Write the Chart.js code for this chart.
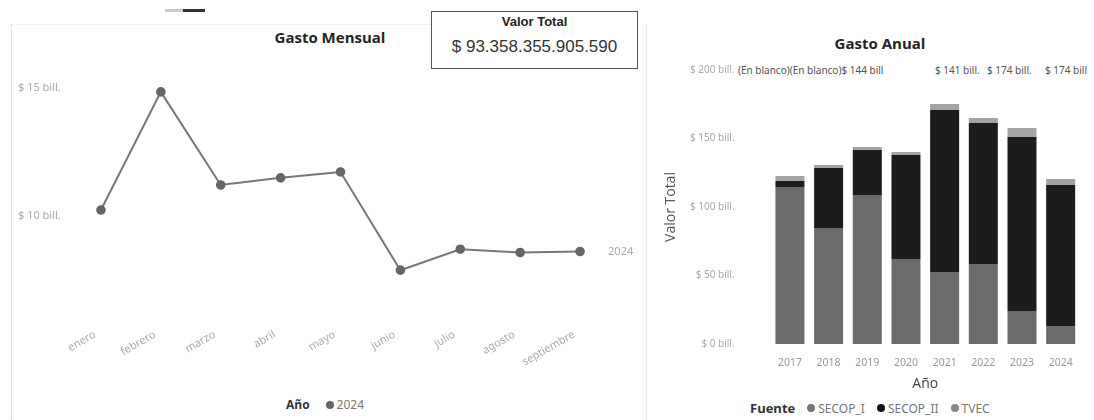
<!DOCTYPE html>
<html lang="es">
<head>
<meta charset="utf-8">
<script src="https://cdn.jsdelivr.net/npm/chart.js@4.4.1/dist/chart.umd.min.js"></script>
<style>
  body { margin: 0; width: 1094px; height: 420px; background: #fff; position: relative; overflow: hidden; font-family: 'Open Sans', sans-serif; }
  .abs { position: absolute; }
  .titulo { font-weight: 700; font-size: 15px; color: #252423; text-align: center; }
  .tarjeta { border: 1px solid #555; font-family: 'Liberation Sans', Arial, sans-serif; text-align: center; color: #222; box-sizing: border-box; }
  .leyenda { font-family: 'Noto Sans', sans-serif; font-size: 12px; color: #777; white-space: nowrap; display: flex; align-items: center; }
  .leyenda b { font-family: 'Open Sans', sans-serif; color: #333; font-size: 12px; margin-right: 14px; }
  .punto { display: inline-block; width: 8px; height: 8px; border-radius: 50%; margin: 0 3px 0 12px; }
  .etq { position: absolute; top: 63px; font-family: 'Noto Sans', sans-serif; font-size: 10px; color: #555; white-space: pre; }
</style>
</head>
<body>
  <div class="abs" style="left:165px;top:9px;width:18px;height:3px;background:#ccc"></div>
  <div class="abs" style="left:183px;top:9px;width:22px;height:3px;background:#333"></div>
  <div class="abs" style="left:11px;top:24px;height:396px;border-left:1px dotted #ccc"></div>
  <div class="abs" style="left:11px;top:24px;width:420px;border-top:1px dotted #e4e4e4"></div>
  <div class="abs" style="left:646px;top:24px;height:396px;border-left:1px dotted #ddd"></div>

  <div class="abs titulo" style="left:230px;top:27px;width:200px">Gasto Mensual</div>
  <div class="abs tarjeta" style="left:431px;top:11px;width:207px;height:58px">
    <div style="font-weight:700;font-size:13px;margin-top:2px">Valor Total</div>
    <div id="valor-total" style="font-size:17px;margin-top:8px;color:#333"></div>
  </div>

  <div class="abs titulo" style="left:780px;top:33px;width:200px">Gasto Anual</div>
  <div id="etiquetas-sup"></div>

  <div class="abs" style="left:12px;top:60px;width:633px;height:325px">
    <canvas id="grafico-mensual" width="633" height="325"></canvas>
  </div>
  <div class="abs" style="left:660px;top:55px;width:434px;height:340px">
    <canvas id="grafico-anual" width="434" height="340"></canvas>
  </div>

  <div id="leyenda-mensual" class="abs leyenda" style="left:286px;top:396px"></div>
  <div id="leyenda-anual" class="abs leyenda" style="left:750px;top:399px"></div>

<script>
// Gasto mensual (billones)
const meses = ['enero', 'febrero', 'marzo', 'abril', 'mayo', 'junio', 'julio', 'agosto', 'septiembre'];
const gastoMensual2024 = [10.22, 14.84, 11.2, 11.48, 11.71, 7.87, 8.69, 8.56, 8.6];
const serieMensual = '2024';
const ticksMensual = [10, 15];

// Gasto anual por fuente (billones)
const anios = ['2017', '2018', '2019', '2020', '2021', '2022', '2023', '2024'];
const secopI = [114.6, 84.7, 108.8, 62.0, 52.6, 58.4, 24.1, 13.1];
const secopII = [4.4, 43.8, 32.8, 75.9, 118.2, 102.9, 127.0, 102.9];
const tvec = [3.6, 2.2, 2.2, 2.2, 4.4, 3.6, 6.6, 4.4];
const ticksAnual = [0, 50, 100, 150, 200];
const etiquetasSuperiores = ['(En blanco)(En blanco)$ 144 bill', '$ 141 bill.', '$ 174 bill.', '$ 174 bill'];

const valorTotal = '$ 93.358.355.905.590';

// posiciones de las etiquetas superiores (px)
const posEtiquetas = [738, 935, 987, 1045];

document.addEventListener('DOMContentLoaded', function() {
    document.getElementById('valor-total').textContent = valorTotal;

    const cont = document.getElementById('etiquetas-sup');
    etiquetasSuperiores.forEach((t, i) => {
        const s = document.createElement('span');
        s.className = 'etq';
        s.style.left = posEtiquetas[i] + 'px';
        s.textContent = t;
        cont.appendChild(s);
    });

    // Leyendas
    document.getElementById('leyenda-mensual').innerHTML =
        '<b style="margin-right:0">Año</b><span class="punto" style="background:#666;margin-left:16px"></span>' + serieMensual;
    document.getElementById('leyenda-anual').innerHTML =
        '<b style="font-size:13px;margin-right:0">Fuente</b>' +
        '<span class="punto" style="background:#777"></span>SECOP_I' +
        '<span class="punto" style="background:#111"></span>SECOP_II' +
        '<span class="punto" style="background:#888"></span>TVEC';

    const fmtBill = v => '$ ' + v + ' bill.';

    // Etiqueta al final de la línea
    const etiquetaFinal = {
        id: 'etiquetaFinal',
        afterDatasetsDraw(chart) {
            const meta = chart.getDatasetMeta(0);
            const ultimo = meta.data[meta.data.length - 1];
            const ctx = chart.ctx;
            ctx.save();
            ctx.font = '11px "Noto Sans", sans-serif';
            ctx.fillStyle = '#aaa';
            ctx.textAlign = 'left';
            ctx.textBaseline = 'middle';
            ctx.fillText(serieMensual, ultimo.x + 28, ultimo.y);
            ctx.restore();
        }
    };

    new Chart(document.getElementById('grafico-mensual'), {
        type: 'line',
        data: {
            labels: meses,
            datasets: [{
                label: serieMensual,
                data: gastoMensual2024,
                borderColor: '#777',
                borderWidth: 2,
                pointRadius: 3.8,
                pointBackgroundColor: '#666',
                pointBorderColor: '#666',
                tension: 0
            }]
        },
        options: {
            responsive: false,
            animation: false,
            layout: { padding: { left: 6, top: 15, right: 35, bottom: 0 } },
            plugins: { legend: { display: false }, tooltip: { enabled: false } },
            scales: {
                x: {
                    offset: true,
                    grid: { display: false },
                    border: { display: false },
                    ticks: { minRotation: 30, maxRotation: 30, padding: 2, labelOffset: -6, color: '#aaa', font: { family: 'Noto Sans', size: 11 } },
                    afterFit: s => { s.height = 67; }
                },
                y: {
                    min: 6,
                    max: 15.5,
                    grid: { display: false },
                    border: { display: false },
                    afterBuildTicks: s => { s.ticks = ticksMensual.map(v => ({ value: v })); },
                    ticks: { crossAlign: 'far', color: '#aaa', font: { family: 'Noto Sans', size: 11 }, callback: fmtBill },
                    afterFit: s => { s.width = 53; }
                }
            }
        },
        plugins: [etiquetaFinal]
    });

    new Chart(document.getElementById('grafico-anual'), {
        type: 'bar',
        data: {
            labels: anios,
            datasets: [
                { label: 'SECOP_I', data: secopI, backgroundColor: '#6b6b6b' },
                { label: 'SECOP_II', data: secopII, backgroundColor: '#1c1c1c' },
                { label: 'TVEC', data: tvec, backgroundColor: '#a3a3a3' }
            ]
        },
        options: {
            responsive: false,
            animation: false,
            layout: { padding: { left: 3, top: 15, right: 14, bottom: 0 } },
            datasets: { bar: { barPercentage: 0.75, categoryPercentage: 1 } },
            plugins: { legend: { display: false }, tooltip: { enabled: false } },
            scales: {
                x: {
                    stacked: true,
                    grid: { display: false },
                    border: { display: false },
                    ticks: { padding: 5, color: '#999', font: { family: 'Noto Sans', size: 10.5 } },
                    title: { display: true, text: 'Año', color: '#444', font: { family: 'Open Sans', size: 14 }, padding: { top: 2, bottom: 3 } },
                    afterFit: s => { s.height = 51; }
                },
                y: {
                    stacked: true,
                    min: 0,
                    max: 200,
                    grid: { display: false, drawTicks: true, tickLength: 33 },
                    border: { display: false },
                    afterBuildTicks: s => { s.ticks = ticksAnual.map(v => ({ value: v })); },
                    ticks: { padding: 3, color: '#aaa', font: { family: 'Noto Sans', size: 10 }, callback: fmtBill },
                    title: { display: true, text: 'Valor Total', color: '#555', font: { family: 'Open Sans', size: 14 }, padding: 0 },
                    afterFit: s => { s.width = 107.6; }
                }
            }
        }
    });
});
</script>
</body>
</html>
